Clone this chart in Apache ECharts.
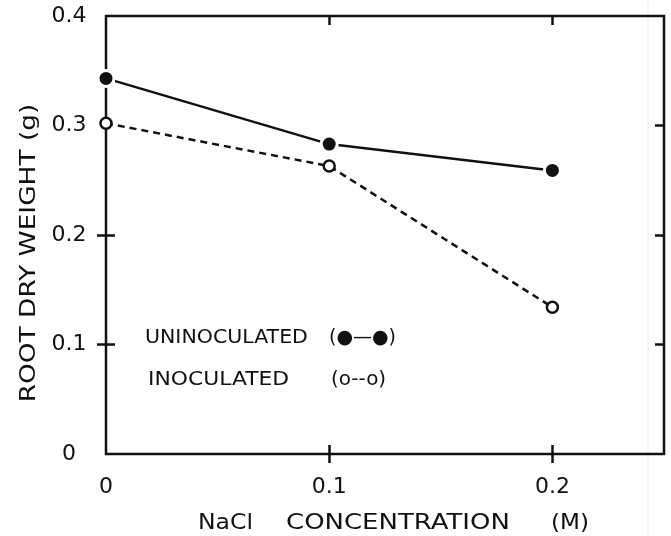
<!DOCTYPE html>
<html>
<head>
<meta charset="utf-8">
<script src="https://cdn.jsdelivr.net/npm/echarts@6/dist/echarts.min.js"></script>
<style>
  html, body {margin:0; padding:0; background:#fff;}
  #chart {width:671px; height:536px;}
</style>
</head>
<body>
<div id="chart"></div>
<script>
// data
var nacl = [0, 0.1, 0.2];                 // NaCl concentration (M)
var uninoculated = [0.343, 0.283, 0.259]; // root dry weight (g)
var inoculated = [0.302, 0.263, 0.134];
var xTickLabels = [0, 0.1, 0.2];
var xTicks = [0.1, 0.2];
var yTicksLeft = [0.1, 0.2];
var yTicksRight = [0.1, 0.2, 0.3];

var ink = '#111';
var font = 'DejaVu Sans';
var half = 9; // half length of the crossing ticks

function pairs(xs, ys){
    return xs.map(function(d,i){return [d, ys[i]];});
};

function label(txt, x, y, size, sx){
    return {type:'text', x:x, y:y, scaleX:sx || 1,
        style:{text:txt, fill:ink, fontFamily:font, fontSize:size, align:'left', verticalAlign:'middle'}};
};

var myChart = echarts.init(document.getElementById('chart'));

// the frame is the grid border; the axes only draw ticks and labels.
// left/bottom axes are pushed out by `half` so their inside ticks cross the frame
option = {
    backgroundColor:'#fff',
    animation:false,
    grid:{left:106, top:16, right:7, bottom:82, containLabel:false,
          show:true, borderColor:ink, borderWidth:2.5, backgroundColor:'transparent'},
    xAxis:[
        {
            type:'value', position:'bottom', offset:half, min:0, max:0.25,
            axisLine:{show:false, onZero:false},
            axisTick:{show:true, inside:true, length:half*2, customValues:xTicks, lineStyle:{color:ink, width:2.5}},
            axisLabel:{show:true, customValues:xTickLabels, margin:13, color:ink, fontFamily:font, fontSize:22,
                formatter:function(v){return v === 0 ? '0' : String(v);}},
            splitLine:{show:false}
        },
        {
            type:'value', position:'top', min:0, max:0.25,
            axisLine:{show:false, onZero:false},
            axisTick:{show:true, inside:true, length:half, customValues:xTicks, lineStyle:{color:ink, width:2.5}},
            axisLabel:{show:false},
            splitLine:{show:false}
        }
    ],
    yAxis:[
        {
            type:'value', position:'left', offset:half, min:0, max:0.4, interval:0.1,
            axisLine:{show:false, onZero:false},
            axisTick:{show:true, inside:true, length:half*2, customValues:yTicksLeft, lineStyle:{color:ink, width:2.5}},
            axisLabel:{show:true, margin:37-half, align:'center', color:ink, fontFamily:font, fontSize:22,
                formatter:function(v){return v === 0 ? '0' : v.toFixed(1);}},
            splitLine:{show:false}
        },
        {
            type:'value', position:'right', min:0, max:0.4, interval:0.1,
            axisLine:{show:false, onZero:false},
            axisTick:{show:true, inside:true, length:half, customValues:yTicksRight, lineStyle:{color:ink, width:2.5}},
            axisLabel:{show:false},
            splitLine:{show:false}
        }
    ],
    graphic:[
        // scan edge
        {type:'line', shape:{x1:648, y1:0, x2:648, y2:536}, style:{stroke:'#ececec', lineWidth:1}, z:-1},
        // y axis title
        {type:'text', x:29, y:253, rotation:Math.PI/2, scaleX:1.2,
            style:{text:'ROOT DRY WEIGHT (g)', fill:ink, fontFamily:font, fontSize:22, align:'center', verticalAlign:'middle'}},
        // x axis title, the words are spread wide in the original lettering
        label('NaCl', 198, 523, 22, 1.07),
        label('CONCENTRATION', 286, 523, 22, 1.18),
        label('(M)', 551, 523, 22, 1.05),
        // key
        label('UNINOCULATED', 145, 338, 19, 1.08),
        label('(●—●)', 329, 338, 19, 1),
        label('INOCULATED', 148, 380, 19, 1.15),
        label('(o--o)', 331, 380, 19, 1.05)
    ],
    series:[
        {
            name:'UNINOCULATED',
            type:'line',
            data:pairs(nacl, uninoculated),
            symbol:'circle',
            symbolSize:16,
            lineStyle:{color:ink, width:2.5},
            itemStyle:{color:ink, borderColor:'#fff', borderWidth:3},
            z:5
        },
        {
            name:'INOCULATED',
            type:'line',
            data:pairs(nacl, inoculated),
            symbol:'circle',
            symbolSize:11,
            lineStyle:{color:ink, width:2.5, type:[7,5]},
            itemStyle:{color:'#fff', borderColor:ink, borderWidth:2.5},
            z:6
        }
    ]
};

myChart.setOption(option);
</script>
</body>
</html>
